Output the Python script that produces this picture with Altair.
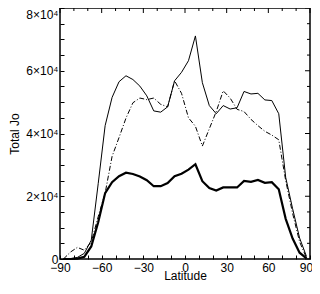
import altair as alt
import pandas as pd

# Latitude grid (degrees)
lat = [-87.5, -82.5, -77.5, -72.5, -67.5, -62.5, -57.5, -52.5, -47.5, -42.5,
       -37.5, -32.5, -27.5, -22.5, -17.5, -12.5, -7.5, -2.5, 2.5, 7.5,
       12.5, 17.5, 22.5, 27.5, 32.5, 37.5, 42.5, 47.5, 52.5, 57.5,
       62.5, 67.5, 72.5, 77.5, 82.5, 87.5]

# thin solid series
thin = [0, 100, 500, 1800, 6000, 24000, 42500, 51500, 56500, 58400,
        57200, 55100, 52000, 47200, 46800, 48500, 56800, 59500, 63200, 71100,
        56200, 48900, 46300, 48900, 47800, 48200, 53400, 52600, 52800, 50700,
        50500, 46300, 26000, 16000, 6700, 800]

# dash-dot series
dashdot = [0, 2200, 3700, 2800, 5400, 13500, 21000, 32700, 38700, 44900,
           49800, 51300, 50800, 51300, 49300, 48500, 56800, 52800, 45000, 42300,
           36000, 41500, 47000, 53600, 51300, 47700, 47000, 44500, 42500, 40700,
           39500, 38000, 25000, 14500, 5500, 300]

# bold solid series
bold = [0, 0, 100, 700, 4000, 11700, 21000, 24500, 26400, 27500,
        27100, 26300, 25100, 23200, 23200, 24200, 26400, 27200, 28500, 30200,
        24800, 22600, 21800, 22800, 22800, 22800, 24900, 24600, 25200, 24300,
        24500, 22200, 12800, 6500, 2000, 200]

x_major = [-90, -60, -30, 0, 30, 60, 90]
x_minor = [-80, -70, -50, -40, -20, -10, 10, 20, 40, 50, 70, 80]
x_all = [-90, -80, -70, -60, -50, -40, -30, -20, -10, 0, 10, 20, 30, 40, 50, 60, 70, 80, 90]
y_major = [0, 20000, 40000, 60000, 80000]
y_minor = [5000, 10000, 15000, 25000, 30000, 35000, 45000, 50000, 55000,
           65000, 70000, 75000]
y_all = [0, 5000, 10000, 15000, 20000, 25000, 30000, 35000, 40000, 45000,
         50000, 55000, 60000, 65000, 70000, 75000, 80000]

W, H = 250, 251
FONT = "Liberation Sans"
MAJ, MIN = 5, 3
TS = 4

df = pd.DataFrame({
    "lat": lat * 3,
    "val": thin + dashdot + bold,
    "series": ["thin"] * len(lat) + ["dashdot"] * len(lat) + ["bold"] * len(lat),
})

xscale = alt.Scale(domain=[-90, 90], nice=False, zero=False)
yscale = alt.Scale(domain=[0, 80000], nice=False, zero=True)

label_x = alt.Axis(orient="bottom", values=x_all, offset=-TS, ticks=True, tickSize=TS,
                   tickColor="black", tickWidth=1, domain=False, grid=False,
                   labelExpr="datum.value % 30 === 0 ? format(datum.value, 'd') : ''",
                   labelOverlap=False, labelFlush=False,
                   labelOffset={"condition": {"test": "datum.value === 90", "value": -4},
                                "value": 0},
                   labelFont=FONT, labelFontSize=12, labelColor="black",
                   labelPadding=3, title="Latitude", titleFont=FONT, titleFontSize=12,
                   titleFontWeight="normal", titleColor="black", titlePadding=-3)
label_y = alt.Axis(orient="left", values=y_all, offset=-TS, ticks=True, tickSize=TS,
                   tickColor="black", tickWidth=1, domain=False, grid=False,
                   labelOverlap=False,
                   labelFont=FONT, labelFontSize=12, labelColor="black", labelPadding=2,
                   labelOffset={"condition": {"test": "datum.value === 80000", "value": 6},
                                "value": 0},
                   labelExpr="datum.value % 20000 !== 0 ? '' : (datum.value == 0 ? '0' : format(datum.value/10000, 'd') + '×10⁴')",
                   title="Total Jo", titleFont=FONT, titleFontSize=12, titleFontWeight="normal",
                   titleColor="black", titleAngle=270, titleX=-46 - TS, titleY=H / 2,
                   titleBaseline="middle", titleAlign="center")

base = alt.Chart(df)

thin_line = base.transform_filter("datum.series == 'thin'").mark_line(
    color="black", strokeWidth=1).encode(
    x=alt.X("lat:Q", scale=xscale, axis=label_x),
    y=alt.Y("val:Q", scale=yscale, axis=label_y))

dd_line = base.transform_filter("datum.series == 'dashdot'").mark_line(
    color="black", strokeWidth=1, strokeDash=[5, 2, 1, 2]).encode(
    x=alt.X("lat:Q", scale=xscale, axis=label_x),
    y=alt.Y("val:Q", scale=yscale, axis=label_y))

bold_line = base.transform_filter("datum.series == 'bold'").mark_line(
    color="black", strokeWidth=2.2).encode(
    x=alt.X("lat:Q", scale=xscale, axis=label_x),
    y=alt.Y("val:Q", scale=yscale, axis=label_y))


def xticks(values, ypos, size):
    return alt.Chart(pd.DataFrame({"lat": values})).mark_tick(
        color="black", thickness=1, size=size, orient="vertical", opacity=1).encode(
        x=alt.X("lat:Q", scale=xscale, axis=label_x),
        y=alt.value(ypos))


def yticks(values, xpos, size):
    return alt.Chart(pd.DataFrame({"val": values})).mark_tick(
        color="black", thickness=1, size=size, orient="horizontal", opacity=1).encode(
        y=alt.Y("val:Q", scale=yscale, axis=label_y),
        x=alt.value(xpos))


# inward ticks on the top and right edges
tick_layers = [
    xticks(x_major, MAJ / 2, MAJ), xticks(x_minor, MIN / 2, MIN),
    yticks(y_major, W - MAJ / 2, MAJ), yticks(y_minor, W - MIN / 2, MIN),
]

chart = alt.layer(thin_line, dd_line, bold_line, *tick_layers).properties(
    width=W, height=H,
    padding={"left": 52, "top": 0, "right": 2, "bottom": 23},
    autosize=alt.AutoSizeParams(type="none"),
    background="white",
).configure_view(stroke="black", strokeWidth=1.5)

chart.save("out.html", embed_options={"renderer": "svg", "actions": False})
